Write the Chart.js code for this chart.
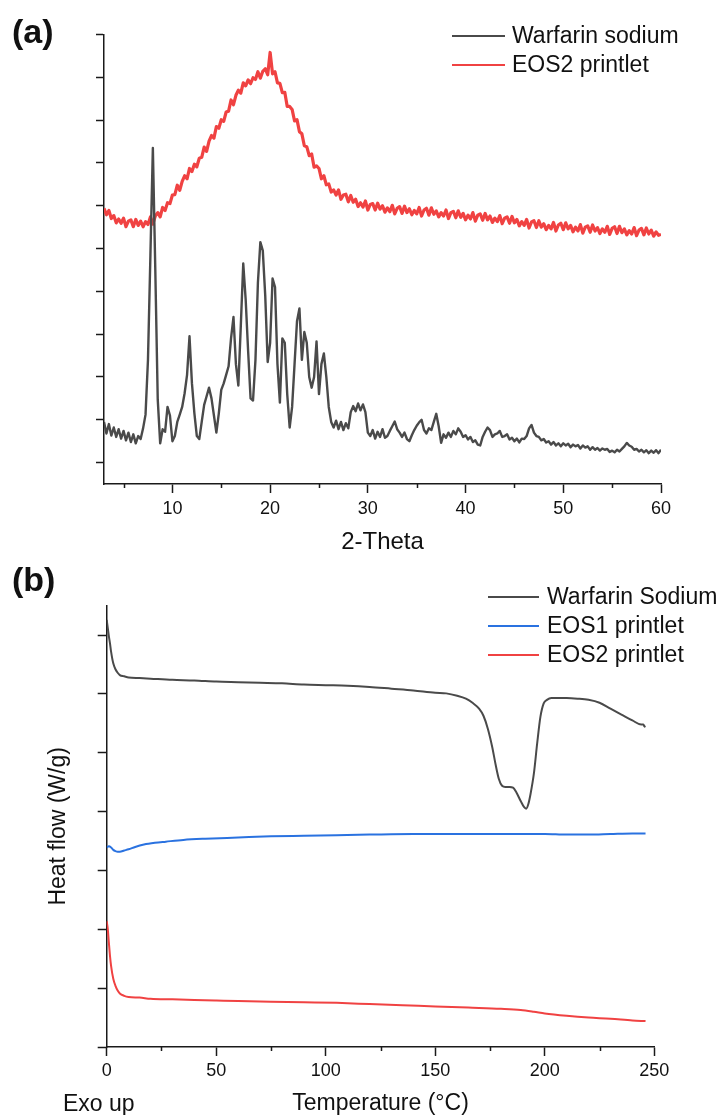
<!DOCTYPE html>
<html><head><meta charset="utf-8">
<script src="https://cdn.jsdelivr.net/npm/chart.js@4"></script>
<style>
html,body{margin:0;padding:0;background:#fff;}
body{width:718px;height:1115px;position:relative;overflow:hidden;font-family:"Liberation Sans",Arial,sans-serif;color:#111;}
canvas{position:absolute;left:0;}
#chartA{top:0;}
#chartB{top:560px;}
.lbl{position:absolute;white-space:nowrap;line-height:1;}
.panel{font-weight:bold;font-size:34px;}
.legend-row{position:absolute;height:23px;font-size:23px;line-height:23px;white-space:nowrap;}
.legend-line{position:absolute;height:2px;top:11px;left:0;}
.legend-text{position:absolute;top:0;}
</style></head><body>
<canvas id="chartA" width="718" height="560"></canvas>
<canvas id="chartB" width="718" height="555"></canvas>
<div class="lbl panel" style="left:12px;top:14px;">(a)</div>
<div class="lbl panel" style="left:12px;top:562px;">(b)</div>
<div class="lbl" style="left:63px;top:1092px;font-size:23px;">Exo up</div>
<div id="legendA"></div>
<div id="legendB"></div>
<script>
// ---------- (a) XRD data ----------
const xrdSeriesNames = ['Warfarin sodium', 'EOS2 printlet'];
const xrdStartAngle = 3;      // 2-Theta of first sample
const xrdAngleStep = 0.25;    // sampling step
const xrdAngleTicks = [10, 20, 30, 40, 50, 60];
const xrdMinorTicks = [5, 15, 25, 35, 45, 55];
const xrdIntensityTicks = [0, 1, 2, 3, 4, 5, 6, 7, 8, 9, 10];

const warfarinXrd = [
  0.95, 0.68, 0.90, 0.63,
  0.82, 0.60, 0.78, 0.56,
  0.74, 0.52, 0.70, 0.48,
  0.66, 0.45, 0.62, 0.55,
  0.80, 1.12, 2.40, 4.85,
  7.35, 4.50, 1.47, 0.45,
  0.78, 0.72, 1.30, 1.10,
  0.50, 0.62, 0.95, 1.12,
  1.30, 1.62, 2.05, 2.95,
  1.85, 1.15, 0.62, 0.55,
  0.95, 1.35, 1.55, 1.75,
  1.50, 1.10, 0.70, 1.15,
  1.70, 1.85, 2.05, 2.25,
  2.90, 3.40, 2.30, 1.80,
  3.20, 4.65, 3.80, 2.60,
  1.50, 1.45, 2.40, 4.20,
  5.15, 4.95, 3.90, 2.35,
  2.80, 4.30, 4.10, 2.30,
  1.40, 2.90, 2.80, 1.60,
  0.82, 1.30, 2.30, 3.30,
  3.60, 2.40, 3.05, 2.80,
  2.00, 1.75, 2.00, 2.83,
  1.60, 2.30, 2.55, 2.00,
  1.30, 0.95, 0.82, 0.98,
  0.78, 0.95, 0.76, 0.92,
  0.80, 1.18, 1.32, 1.20,
  1.38, 1.22, 1.36, 1.18,
  0.70, 0.62, 0.76, 0.56,
  0.72, 0.60, 0.78, 0.58,
  0.62, 0.74, 0.85, 0.96,
  0.78, 0.70, 0.60, 0.70,
  0.55, 0.50, 0.64, 0.76,
  0.86, 0.94, 1.00, 0.76,
  0.68, 0.80, 0.76, 0.95,
  1.14, 0.85, 0.46, 0.66,
  0.58, 0.70, 0.60, 0.74,
  0.66, 0.80, 0.72, 0.60,
  0.64, 0.54, 0.60, 0.48,
  0.52, 0.42, 0.40, 0.60,
  0.72, 0.82, 0.76, 0.60,
  0.66, 0.68, 0.74, 0.60,
  0.62, 0.66, 0.54, 0.58,
  0.50, 0.56, 0.47, 0.56,
  0.55, 0.62, 0.80, 0.88,
  0.70, 0.62, 0.60, 0.52,
  0.55, 0.47, 0.50, 0.42,
  0.48, 0.40, 0.45, 0.38,
  0.45, 0.40, 0.44, 0.36,
  0.42, 0.38, 0.41, 0.33,
  0.40, 0.35, 0.38, 0.30,
  0.36, 0.30, 0.34, 0.28,
  0.33, 0.30, 0.32, 0.25,
  0.28, 0.24, 0.30, 0.26,
  0.32, 0.38, 0.46, 0.40,
  0.37, 0.30, 0.32, 0.26,
  0.30, 0.24, 0.29, 0.22,
  0.28, 0.23, 0.29, 0.22,
  0.30
];

const eos2Xrd = [
  5.94, 5.79, 5.89, 5.70,
  5.77, 5.60, 5.69, 5.59,
  5.71, 5.51, 5.64, 5.67,
  5.51, 5.68, 5.54, 5.64,
  5.51, 5.63, 5.56, 5.74,
  5.57, 5.76, 5.84, 5.74,
  5.96, 5.89, 6.07, 6.05,
  6.25, 6.26, 6.48, 6.36,
  6.57, 6.70, 6.63, 6.87,
  6.80, 6.97, 6.91, 7.11,
  7.13, 7.37, 7.27, 7.51,
  7.64, 7.58, 7.85, 7.81,
  8.01, 7.97, 8.19, 8.21,
  8.47, 8.36, 8.58, 8.70,
  8.63, 8.87, 8.80, 8.94,
  8.85, 8.99, 8.95, 9.13,
  8.98, 9.14, 9.20, 9.06,
  9.58, 9.08, 9.13, 8.87,
  8.86, 8.64, 8.65, 8.32,
  8.32, 8.25, 7.98, 8.01,
  7.73, 7.68, 7.40, 7.38,
  7.17, 7.21, 6.90, 6.93,
  6.87, 6.63, 6.70, 6.49,
  6.51, 6.32, 6.37, 6.25,
  6.37, 6.15, 6.25, 6.27,
  6.09, 6.24, 6.08, 6.15,
  5.98, 6.07, 5.97, 6.11,
  5.90, 6.03, 6.05, 5.90,
  6.06, 5.92, 6.00, 5.85,
  5.95, 5.86, 6.01, 5.81,
  5.94, 5.98, 5.82, 5.99,
  5.84, 5.93, 5.79, 5.89,
  5.81, 5.96, 5.76, 5.90,
  5.94, 5.78, 5.95, 5.80,
  5.88, 5.74, 5.84, 5.76,
  5.90, 5.70, 5.84, 5.87,
  5.72, 5.88, 5.73, 5.82,
  5.67, 5.78, 5.69, 5.84,
  5.64, 5.78, 5.81, 5.66,
  5.82, 5.67, 5.76, 5.61,
  5.71, 5.63, 5.77, 5.58,
  5.71, 5.74, 5.59, 5.75,
  5.60, 5.68, 5.53, 5.63,
  5.54, 5.68, 5.48, 5.62,
  5.65, 5.49, 5.65, 5.50,
  5.58, 5.44, 5.54, 5.46,
  5.61, 5.41, 5.55, 5.59,
  5.44, 5.60, 5.46, 5.54,
  5.39, 5.50, 5.41, 5.56,
  5.36, 5.50, 5.53, 5.38,
  5.55, 5.41, 5.49, 5.35,
  5.46, 5.38, 5.52, 5.33,
  5.47, 5.51, 5.35, 5.52,
  5.37, 5.46, 5.32, 5.42,
  5.34, 5.49, 5.30, 5.43,
  5.47, 5.32, 5.48, 5.34,
  5.43, 5.29, 5.39, 5.31,
  5.33
];

// ---------- (b) DSC data ----------
const dscSeriesNames = ['Warfarin Sodium', 'EOS1 printlet', 'EOS2 printlet'];
const dscTempTicks = [0, 50, 100, 150, 200, 250];
const dscMinorTicks = [25, 75, 125, 175, 225];
const dscHeatTicks = [0, 1, 2, 3, 4, 5, 6, 7];

const warfarinDscTemp = [0, 0.5, 1, 1.5, 2, 3, 4, 5, 6, 8, 10, 15, 20, 30, 40, 50, 60, 70, 80, 90,
  100, 110, 120, 130, 140, 150, 155, 160, 164, 167, 170, 172, 174, 176, 177.5, 179, 180.5, 182, 184, 185.5,
  187, 189, 190.5, 191.5, 192.5, 193.5, 195, 196.5, 198, 199.5, 201, 203, 205, 210, 215, 220, 225, 230, 235, 240,
  244, 245, 245.5, 246];
const warfarinDscFlow = [7.26, 7.12, 6.98, 6.86, 6.72, 6.52, 6.42, 6.36, 6.32, 6.30, 6.28, 6.27, 6.26, 6.24, 6.23, 6.21, 6.20, 6.19, 6.18, 6.16,
  6.15, 6.14, 6.12, 6.09, 6.06, 6.02, 6.01, 5.97, 5.92, 5.85, 5.75, 5.63, 5.41, 5.10, 4.81, 4.56, 4.44, 4.42, 4.42, 4.41,
  4.33, 4.18, 4.08, 4.05, 4.13, 4.30, 4.64, 5.15, 5.61, 5.84, 5.90, 5.93, 5.93, 5.93, 5.92, 5.90, 5.85, 5.75, 5.65, 5.55,
  5.48, 5.48, 5.45, 5.44];

const eos1DscTemp = [0, 1, 2, 3, 4, 5, 6, 8, 10, 13, 17, 22, 27, 35, 45, 60, 75, 90, 105, 120, 140, 160, 180, 200, 210, 220, 230, 240, 246];
const eos1DscFlow = [3.39, 3.41, 3.39, 3.35, 3.33, 3.32, 3.32, 3.34, 3.36, 3.40, 3.44, 3.47, 3.49, 3.52, 3.54, 3.56, 3.58, 3.59, 3.60, 3.61, 3.62, 3.62, 3.62, 3.62, 3.61, 3.61, 3.62, 3.63, 3.63];

const eos2DscTemp = [0, 0.5, 1, 1.5, 2, 3, 4, 5, 6, 8, 10, 15, 20, 30, 40, 50, 60, 75, 90, 105, 120, 135, 150, 165, 180, 189, 195, 200, 210, 220, 230, 240, 246];
const eos2DscFlow = [2.14, 2.00, 1.77, 1.55, 1.38, 1.16, 1.04, 0.96, 0.91, 0.87, 0.85, 0.84, 0.82, 0.81, 0.80, 0.79, 0.78, 0.77, 0.76, 0.75, 0.73, 0.71, 0.69, 0.67, 0.65, 0.63, 0.60, 0.57, 0.53, 0.50, 0.48, 0.45, 0.44];

// ---------- styling ----------
const FONT = '"Liberation Sans", Arial, sans-serif';
const AXIS = '#1a1a1a';
const GRAY = '#4a4a4a', RED = '#f04242', BLUE = '#2a72e0';

const minorTickPlugin = {
  id: 'minorTicks',
  afterDraw(chart, args, opts) {
    const scale = chart.scales.x;
    const ctx = chart.ctx;
    ctx.save();
    ctx.strokeStyle = opts.color;
    ctx.lineWidth = opts.width;
    ctx.beginPath();
    for (const v of opts.values) {
      const px = Math.round(scale.getPixelForValue(v)) + 0.5;
      ctx.moveTo(px, scale.top);
      ctx.lineTo(px, scale.top + opts.length);
    }
    ctx.stroke();
    ctx.restore();
  }
};

function pairs(xs, ys) { return ys.map((y, i) => ({ x: xs[i], y })); }
function setTicks(list) { return s => { s.ticks = list.map(v => ({ value: v })); }; }

function buildLegend(id, names, colors, left, lineLen, textOffset, firstCenter, gap) {
  const box = document.getElementById(id);
  names.forEach((name, i) => {
    const row = document.createElement('div');
    row.className = 'legend-row';
    row.style.left = left + 'px';
    row.style.top = (firstCenter + i * gap - 11.5) + 'px';
    const line = document.createElement('div');
    line.className = 'legend-line';
    line.style.width = lineLen + 'px';
    line.style.background = colors[i];
    const txt = document.createElement('span');
    txt.className = 'legend-text';
    txt.style.left = textOffset + 'px';
    txt.textContent = name;
    row.append(line, txt);
    box.appendChild(row);
  });
}

const xrdAngles = warfarinXrd.map((_, i) => xrdStartAngle + i * xrdAngleStep);

new Chart(document.getElementById('chartA'), {
  type: 'line',
  data: {
    datasets: [
      { label: xrdSeriesNames[0], data: pairs(xrdAngles, warfarinXrd), borderColor: GRAY, borderWidth: 2.4, pointRadius: 0, tension: 0, borderJoinStyle: 'round' },
      { label: xrdSeriesNames[1], data: pairs(xrdAngles, eos2Xrd), borderColor: RED, borderWidth: 3.2, pointRadius: 0, tension: 0, borderJoinStyle: 'round' }
    ]
  },
  options: {
    responsive: false, animation: false, events: [],
    layout: { padding: { top: 34.5, right: 57, bottom: 0, left: 0 } },
    plugins: { legend: { display: false }, tooltip: { enabled: false },
      minorTicks: { values: xrdMinorTicks, length: 4, color: AXIS, width: 1.5 } },
    scales: {
      x: {
        type: 'linear', min: 3, max: 60,
        afterBuildTicks: setTicks(xrdAngleTicks),
        afterFit: s => { s.height = 76; },
        grid: { display: true, drawOnChartArea: false, drawTicks: true, tickLength: 9, tickWidth: 1.5, tickColor: AXIS },
        border: { display: true, color: AXIS, width: 1.5 },
        ticks: { color: '#111', font: { family: FONT, size: 18 }, padding: 5, maxRotation: 0, autoSkip: false },
        title: { display: true, text: '2-Theta', color: '#111', font: { family: FONT, size: 24, lineHeight: 1 }, padding: { top: 0, bottom: 6 } }
      },
      y: {
        type: 'linear', min: -0.5, max: 10,
        afterBuildTicks: setTicks(xrdIntensityTicks),
        afterFit: s => { s.width = 104; },
        grid: { display: true, drawOnChartArea: false, drawTicks: true, tickLength: 8, tickWidth: 1.5, tickColor: AXIS },
        border: { display: true, color: AXIS, width: 1.5 },
        ticks: { display: false }
      }
    }
  },
  plugins: [minorTickPlugin]
});

new Chart(document.getElementById('chartB'), {
  type: 'line',
  data: {
    datasets: [
      { label: dscSeriesNames[0], data: pairs(warfarinDscTemp, warfarinDscFlow), borderColor: GRAY, borderWidth: 2, pointRadius: 0, cubicInterpolationMode: 'monotone' },
      { label: dscSeriesNames[1], data: pairs(eos1DscTemp, eos1DscFlow), borderColor: BLUE, borderWidth: 2, pointRadius: 0, cubicInterpolationMode: 'monotone' },
      { label: dscSeriesNames[2], data: pairs(eos2DscTemp, eos2DscFlow), borderColor: RED, borderWidth: 2, pointRadius: 0, cubicInterpolationMode: 'monotone' }
    ]
  },
  options: {
    responsive: false, animation: false, events: [],
    layout: { padding: { top: 45.7, right: 63.7, bottom: 0, left: 0 } },
    plugins: { legend: { display: false }, tooltip: { enabled: false },
      minorTicks: { values: dscMinorTicks, length: 4, color: AXIS, width: 1.5 } },
    scales: {
      x: {
        type: 'linear', min: 0, max: 250,
        afterBuildTicks: setTicks(dscTempTicks),
        afterFit: s => { s.height = 68; },
        grid: { display: true, drawOnChartArea: false, drawTicks: true, tickLength: 9, tickWidth: 1.5, tickColor: AXIS },
        border: { display: true, color: AXIS, width: 1.5 },
        ticks: { color: '#111', font: { family: FONT, size: 18 }, padding: 4, maxRotation: 0, autoSkip: false },
        title: { display: true, text: 'Temperature (°C)', color: '#111', font: { family: FONT, size: 23, lineHeight: 1 }, padding: { top: 0, bottom: 0 } }
      },
      y: {
        type: 'linear', min: 0, max: 7.5,
        afterBuildTicks: setTicks(dscHeatTicks),
        afterFit: s => { s.width = 106.7; },
        grid: { display: true, drawOnChartArea: false, drawTicks: true, tickLength: 9, tickWidth: 1.5, tickColor: AXIS },
        border: { display: true, color: AXIS, width: 1.5 },
        ticks: { display: false },
        title: { display: true, text: 'Heat flow (W/g)', color: '#111', font: { family: FONT, size: 23, lineHeight: 1 }, padding: { top: 47.5, bottom: 0 } }
      }
    }
  },
  plugins: [minorTickPlugin]
});

buildLegend('legendA', xrdSeriesNames, [GRAY, RED], 452, 53, 60, 35, 29);
buildLegend('legendB', dscSeriesNames, [GRAY, BLUE, RED], 488, 51, 59, 596.7, 28.8);
</script>
</body></html>
